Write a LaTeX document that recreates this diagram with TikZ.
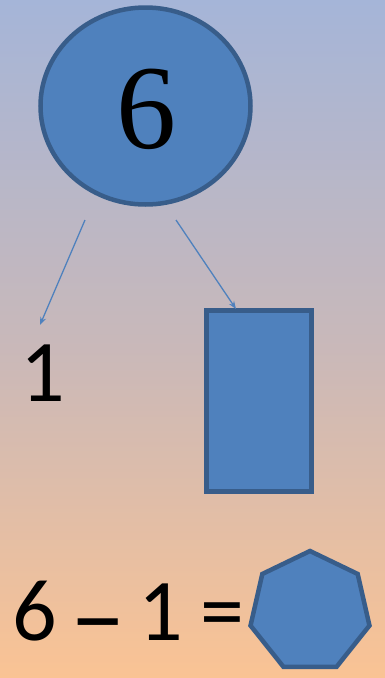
\documentclass[tikz,border=0pt]{standalone}
\usepackage{fontspec}
\setmainfont{Carlito}
\newfontfamily\serifnum{Liberation Serif}
\usetikzlibrary{arrows.meta,shapes.geometric}
\definecolor{bgtop}{RGB}{165,181,216}
\definecolor{bgmid}{RGB}{200,184,186}
\definecolor{bgbot}{RGB}{250,195,148}
\definecolor{shfill}{RGB}{79,129,189}
\definecolor{shdraw}{RGB}{56,93,138}
\tikzset{
  shape box/.style={fill=shfill, draw=shdraw, line width=4.5pt},
  link/.style={draw=shfill, line width=1.3pt, -{Stealth[length=8pt,width=6pt]}},
  bigtxt/.style={inner sep=0pt, font=\fontsize{88}{96}\selectfont}
}
\begin{document}
\begin{tikzpicture}[x=1pt,y=-1pt]
  \shade[top color=bgtop, bottom color=bgbot, middle color=bgmid] (0,0) rectangle (385,678);
  \useasboundingbox (0,0) rectangle (385,678);
  \node[shape box, ellipse, minimum width=210pt, minimum height=197pt, inner sep=0pt] (e) at (145.5,106) {};
  \node[inner sep=0pt, font=\serifnum\fontsize{120}{130}\selectfont] (six) at (146,109) {6};
  \node[bigtxt] (one) at (43,373) {1};
  \node[shape box, rectangle, minimum width=105pt, minimum height=181pt, inner sep=0pt] (r) at (259,401) {};
  \coordinate (s1) at (85,220);
  \coordinate (t1) at (40,325);
  \coordinate (s2) at (176,220);
  \coordinate (t2) at (236,309);
  \draw[link] (s1) -- (t1);
  \draw[link] (s2) -- (t2);
  \node[bigtxt, anchor=base] (q6) at (35,640) {6};
  \node[bigtxt, anchor=base] (qm) at (98,640) {\raisebox{-11pt}{\scalebox{0.62}[1.2]{—}}};
  \node[bigtxt, anchor=base] (q1) at (161,640) {1};
  \node[bigtxt, anchor=base] (qe) at (222,640) {=};
  \node[shape box, regular polygon, regular polygon sides=7, minimum size=122pt, inner sep=0pt] (h) at (310,612) {};
\end{tikzpicture}
\end{document}
